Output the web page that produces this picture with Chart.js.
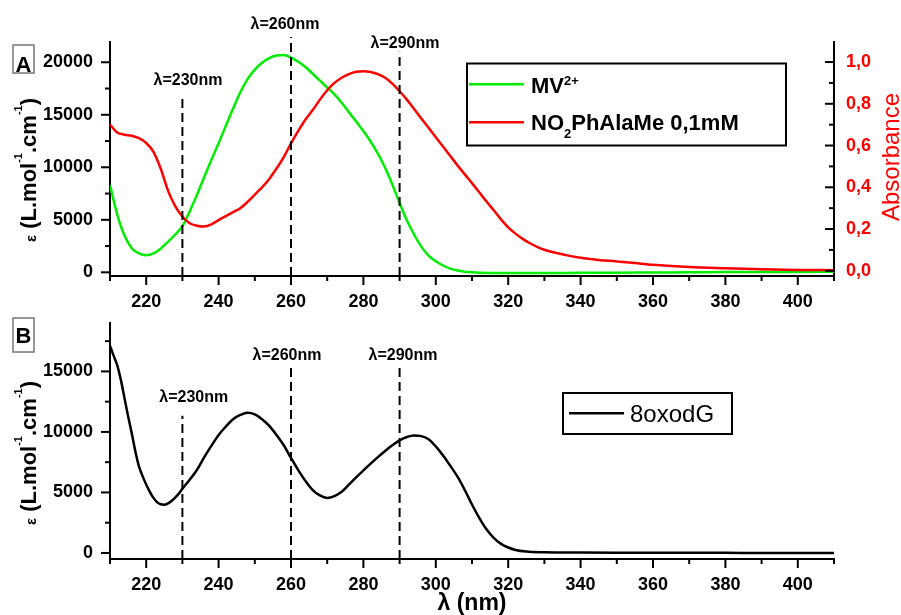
<!DOCTYPE html>
<html>
<head>
<meta charset="utf-8">
<script src="https://cdn.jsdelivr.net/npm/chart.js@4.4.0/dist/chart.umd.min.js"></script>
<style>
  body { margin: 0; background: #fff; }
  #wrap { position: relative; width: 901px; height: 615px; }
  canvas { position: absolute; left: 0; top: 0; }
</style>
</head>
<body>
<div id="wrap">
  <canvas id="chartA" width="901" height="615"></canvas>
  <canvas id="chartB" width="901" height="615"></canvas>
</div>
<script>
// ---- panel A : MV2+ (epsilon, left axis) and NO2PhAlaMe (absorbance, right axis)
const mvNm = [210,212,214,216,218,220,222,224,226,228,230,232,234,236,238,240,242,244,246,248,
  250,252,254,256,258,260,262,264,266,268,270,272,274,276,278,280,282,284,286,288,
  290,292,294,296,298,300,302,304,306,308,310,315,320,330,340,350,360,370,380,390,400,410];
const mvEps = [8300,5500,3500,2300,1800,1620,1800,2250,2900,3600,4400,5800,7350,9050,10700,12300,13950,15600,17150,18400,
  19300,19950,20400,20650,20700,20450,20050,19550,18900,18250,17600,16950,16150,15250,14350,13450,12450,11300,9950,8350,
  6600,4950,3600,2450,1600,1050,650,350,170,60,0,-60,-70,-70,-50,-40,-20,0,20,30,40,50];

const nitroNm = [210,212,214,216,218,220,222,224,226,228,230,232,234,236,238,240,242,244,246,248,
  250,252,254,256,258,260,262,264,266,268,270,272,274,276,278,280,282,284,286,288,
  290,292,294,296,298,300,302,304,306,308,310,312,314,316,318,320,322,324,326,328,330,
  333,336,340,345,350,355,360,370,380,390,400,410];
const nitroAbs = [0.700,0.662,0.652,0.647,0.635,0.612,0.57,0.49,0.385,0.31,
  0.26,0.228,0.216,0.212,0.222,0.243,0.262,0.281,0.30,0.33,
  0.365,0.40,0.44,0.49,0.545,0.61,0.67,0.725,0.77,0.82,
  0.865,0.90,0.925,0.942,0.953,0.956,0.952,0.942,0.925,0.897,
  0.86,0.82,0.775,0.73,0.685,0.64,0.595,0.55,0.505,0.462,
  0.42,0.376,0.332,0.29,0.246,0.208,0.178,0.153,0.132,0.115,0.101,
  0.086,0.075,0.062,0.052,0.045,0.037,0.029,0.018,0.012,0.007,0.004,0.003];

// ---- panel B : 8oxodG
const oxoNm = [210,211,212,213,214,215,216,217,218,219,220,221,222,223,224,225,226,227,228,229,
  230,232,234,236,238,240,242,244,246,248,250,252,254,256,258,260,262,264,266,268,
  270,272,274,276,278,280,282,284,286,288,290,292,294,296,298,300,302,304,306,308,
  310,312,314,316,318,320,322,325,330,340,350,360,370,380,390,400,410];
const oxoEps = [17100,16300,15500,14300,12800,11300,9900,8400,7150,6350,5650,5050,4550,4200,4020,3990,4100,4300,4580,4900,
  5300,6050,6850,7900,8850,9750,10450,11050,11400,11580,11450,11050,10500,9750,8900,7850,6850,5950,5200,4750,
  4550,4700,5050,5650,6250,6820,7380,7920,8430,8900,9300,9580,9700,9650,9400,8800,8050,7200,6300,5200,
  4000,2900,1950,1250,750,450,250,120,60,30,20,20,10,10,0,0,0];

// marked wavelengths and how high each dashed line reaches
const markerNm = [230, 260, 290];
const markerTopA = [16900, 22400, 21000];
const markerTopB = [11340, 15410, 15410];

// axis ranges and labelled ticks
const xRange = [210, 410];
const epsRangeA = [-350, 21930];
const absRange = [-0.025, 1.096];
const epsRangeB = [-500, 19000];
const xTicks = [220, 240, 260, 280, 300, 320, 340, 360, 380, 400];
const epsTicksA = [0, 5000, 10000, 15000, 20000];
const absTicks = [0, 0.2, 0.4, 0.6, 0.8, 1.0];
const epsTicksB = [0, 5000, 10000, 15000];

const FONT = '"Liberation Sans", Arial, sans-serif';

function pts(xs, ys) { return xs.map((x, i) => ({ x: x, y: ys[i] })); }

// rich text pieces (super/subscripts)
const epsTitle = [{t: 'ε', size: 15}, {t: ' (L.mol'}, {t: '-1', size: 11, dy: -14}, {t: '.cm'}, {t: '-1', size: 11, dy: -14}, {t: ')'}];
const mvLabel = [{t: 'MV'}, {t: '2+', size: 13, dy: -8}];
const nitroLabel = [{t: 'NO'}, {t: '2', size: 13, dy: 8}, {t: 'PhAlaMe 0,1mM'}];
const oxoLabel = [{t: '8oxodG'}];

function richWidth(ctx, parts, size, weight) {
  let w = 0;
  for (const p of parts) {
    ctx.font = (p.weight || weight) + ' ' + (p.size || size) + 'px ' + FONT;
    w += ctx.measureText(p.t).width;
  }
  return w;
}
function richText(ctx, parts, x, y, size, weight) {
  let cx = x;
  for (const p of parts) {
    ctx.font = (p.weight || weight) + ' ' + (p.size || size) + 'px ' + FONT;
    ctx.fillText(p.t, cx, y + (p.dy || 0));
    cx += ctx.measureText(p.t).width;
  }
}

function tickMarks(ctx, scale, step, every, lenMajor, lenMinor, inward) {
  const n0 = Math.ceil(scale.min / step - 1e-6);
  const n1 = Math.floor(scale.max / step + 1e-6);
  ctx.save();
  ctx.strokeStyle = '#000';
  ctx.lineWidth = 2;
  for (let n = n0; n <= n1; n++) {
    const p = scale.getPixelForValue(n * step);
    const len = (Math.abs(n) % every === 0) ? lenMajor : lenMinor;
    ctx.beginPath();
    if (scale.isHorizontal()) {
      ctx.moveTo(p, scale.top); ctx.lineTo(p, scale.top + len);
    } else if (scale.position === 'left') {
      ctx.moveTo(scale.right, p); ctx.lineTo(scale.right - len, p);
    } else {
      ctx.moveTo(scale.left, p); ctx.lineTo(scale.left + (inward ? -len : len), p);
    }
    ctx.stroke();
  }
  ctx.restore();
}

// layout of the extra bits, per canvas
const decor = {
  chartA: {
    marks: [['x', 10, 2, 9, 5, false], ['y', 2500, 2, 9, 5, false], ['y1', 0.1, 2, 9, 5, true]],
    panel: {t: 'A', x: 13, y: 45, w: 21, h: 28, base: 71.5},
    yTitleDy: 11,
    rightTitle: {text: 'Absorbance', x: 899, dy: -2},
    legend: {box: [467, 63.5, 319, 82], lineX: [469, 524], textX: 531, size: 22, weight: 'bold',
      rows: [{ds: 'MV2+', parts: mvLabel, y: 84.3, base: 92.7}, {ds: 'NO2PhAlaMe 0,1mM', parts: nitroLabel, y: 122.3, base: 130}]},
    labels: {base: [85, 29.3, 48.3], dx: [5.6, -6, 5.4]}
  },
  chartB: {
    marks: [['x', 10, 2, 9, 5, false], ['y', 2500, 2, 9, 5, false]],
    panel: {t: 'B', x: 13, y: 318, w: 21, h: 34, base: 343.3},
    yTitleDy: 12,
    xTitle: {text: 'λ (nm)', base: 610},
    legend: {box: [563, 393, 169, 41], lineX: [569, 624], textX: 630, size: 24, weight: 'normal',
      rows: [{ds: '8oxodG', parts: oxoLabel, y: 413.3, base: 421.7}]},
    labels: {base: [401.7, 360.3, 360.3], dx: [11.4, -4, 3.4]}
  }
};

const decorPlugin = {
  id: 'decor',
  afterDraw(chart) {
    const d = decor[chart.canvas.id];
    const ctx = chart.ctx;
    const area = chart.chartArea;
    d.marks.forEach(m => tickMarks(ctx, chart.scales[m[0]], m[1], m[2], m[3], m[4], m[5]));

    ctx.save();
    ctx.fillStyle = '#000';
    ctx.textBaseline = 'alphabetic';

    // panel letter
    ctx.strokeStyle = '#777';
    ctx.lineWidth = 1.5;
    ctx.strokeRect(d.panel.x, d.panel.y, d.panel.w, d.panel.h);
    ctx.font = 'bold 22px ' + FONT;
    ctx.textAlign = 'center';
    ctx.fillText(d.panel.t, d.panel.x + d.panel.w / 2, d.panel.base);
    ctx.textAlign = 'left';

    // left title
    const cy = (area.top + area.bottom) / 2 + d.yTitleDy;
    ctx.save();
    ctx.translate(36, cy);
    ctx.rotate(-Math.PI / 2);
    const tw = richWidth(ctx, epsTitle, 22, 'bold');
    richText(ctx, epsTitle, -tw / 2, 0, 22, 'bold');
    ctx.restore();

    // right title
    if (d.rightTitle) {
      ctx.save();
      ctx.fillStyle = '#ff0000';
      ctx.translate(d.rightTitle.x, cy - d.yTitleDy + d.rightTitle.dy);
      ctx.rotate(-Math.PI / 2);
      ctx.font = 'normal 24px ' + FONT;
      ctx.textAlign = 'center';
      ctx.fillText(d.rightTitle.text, 0, 0);
      ctx.restore();
    }

    // bottom title
    if (d.xTitle) {
      ctx.font = 'bold 23px ' + FONT;
      ctx.textAlign = 'center';
      ctx.fillText(d.xTitle.text, (area.left + area.right) / 2, d.xTitle.base);
      ctx.textAlign = 'left';
    }

    // wavelength labels over the dashed lines
    const xs = chart.scales.x;
    ctx.font = 'bold 16px ' + FONT;
    ctx.textAlign = 'center';
    markerNm.forEach((nm, i) => {
      ctx.fillText('λ=' + nm + 'nm', xs.getPixelForValue(nm) + d.labels.dx[i], d.labels.base[i]);
    });
    ctx.textAlign = 'left';

    // legend
    const lg = d.legend;
    ctx.fillStyle = '#fff';
    ctx.fillRect(lg.box[0], lg.box[1], lg.box[2], lg.box[3]);
    ctx.strokeStyle = '#000';
    ctx.lineWidth = 2;
    ctx.strokeRect(lg.box[0], lg.box[1], lg.box[2], lg.box[3]);
    lg.rows.forEach(r => {
      const ds = chart.data.datasets.find(s => s.label === r.ds);
      ctx.strokeStyle = ds.borderColor;
      ctx.lineWidth = 2.5;
      ctx.beginPath();
      ctx.moveTo(lg.lineX[0], r.y);
      ctx.lineTo(lg.lineX[1], r.y);
      ctx.stroke();
      ctx.fillStyle = '#000';
      richText(ctx, r.parts, lg.textX, r.base, lg.size, lg.weight);
    });
    ctx.restore();
  }
};

const tickFont = { family: FONT, size: 18, weight: 'bold', lineHeight: 1.2 };

function markerSets(tops, yMin) {
  return markerNm.map((nm, i) => ({
    label: '',
    data: [{ x: nm, y: yMin }, { x: nm, y: tops[i] }],
    borderColor: '#000',
    borderWidth: 2,
    borderDash: [9, 5],
    pointRadius: 0,
    clip: false,
    yAxisID: 'y',
    order: 0
  }));
}

function xScale(height) {
  return {
    type: 'linear', position: 'bottom', min: xRange[0], max: xRange[1],
    grid: { display: false, drawTicks: false },
    border: { display: true, color: '#000', width: 2 },
    ticks: { font: tickFont, color: '#000', padding: 15, maxRotation: 0, autoSkip: false, callback: v => String(v) },
    afterBuildTicks: s => { s.ticks = xTicks.map(v => ({ value: v })); },
    afterFit: s => { s.height = height; }
  };
}

function epsScale(range, ticks) {
  return {
    type: 'linear', position: 'left', min: range[0], max: range[1],
    grid: { display: false, drawTicks: false },
    border: { display: true, color: '#000', width: 2 },
    ticks: { font: tickFont, color: '#000', padding: 17, callback: v => String(v) },
    afterBuildTicks: s => { s.ticks = ticks.map(v => ({ value: v })); },
    afterFit: s => { s.width = 110; }
  };
}

new Chart(document.getElementById('chartA'), {
  type: 'line',
  data: {
    datasets: [
      ...markerSets(markerTopA, epsRangeA[0]),
      { label: 'NO2PhAlaMe 0,1mM', data: pts(nitroNm, nitroAbs), borderColor: '#ff0000', borderWidth: 2.5,
        pointRadius: 0, cubicInterpolationMode: 'monotone', yAxisID: 'y1', order: 1 },
      { label: 'MV2+', data: pts(mvNm, mvEps), borderColor: '#00ee00', borderWidth: 2.5,
        pointRadius: 0, cubicInterpolationMode: 'monotone', yAxisID: 'y', order: 2 }
    ]
  },
  options: {
    responsive: false,
    animation: false,
    layout: { padding: { top: 42, left: 0, right: 0, bottom: 0 } },
    plugins: { legend: { display: false }, tooltip: { enabled: false } },
    scales: {
      x: xScale(339),
      y: epsScale(epsRangeA, epsTicksA),
      y1: {
        type: 'linear', position: 'right', min: absRange[0], max: absRange[1],
        grid: { display: false, drawTicks: false },
        border: { display: true, color: '#000', width: 2 },
        ticks: { font: tickFont, color: '#ff0000', padding: 12, callback: v => v.toFixed(1).replace('.', ',') },
        afterBuildTicks: s => { s.ticks = absTicks.map(v => ({ value: v })); },
        afterFit: s => { s.width = 67; }
      }
    }
  },
  plugins: [decorPlugin]
});

new Chart(document.getElementById('chartB'), {
  type: 'line',
  data: {
    datasets: [
      ...markerSets(markerTopB, epsRangeB[0]),
      { label: '8oxodG', data: pts(oxoNm, oxoEps), borderColor: '#000', borderWidth: 2.5,
        pointRadius: 0, cubicInterpolationMode: 'monotone', yAxisID: 'y', order: 1 }
    ]
  },
  options: {
    responsive: false,
    animation: false,
    layout: { padding: { top: 323, left: 0, right: 67, bottom: 0 } },
    plugins: { legend: { display: false }, tooltip: { enabled: false } },
    scales: {
      x: xScale(56),
      y: epsScale(epsRangeB, epsTicksB)
    }
  },
  plugins: [decorPlugin]
});
</script>
</body>
</html>
